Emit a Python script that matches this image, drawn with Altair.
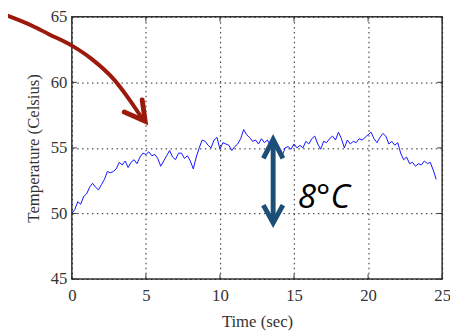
import altair as alt
import pandas as pd

# ---- data ----
time_s = [0.0, 0.2, 0.4, 0.6, 0.8, 1.0, 1.2, 1.4, 1.6, 1.8, 2.0, 2.2, 2.4, 2.6, 2.8,
          3.0, 3.2, 3.4, 3.6, 3.8, 4.0, 4.2, 4.4, 4.6, 4.8, 5.0, 5.2, 5.4, 5.6, 5.8,
          6.0, 6.2, 6.4, 6.6, 6.8, 7.0, 7.2, 7.4, 7.6, 7.8, 8.0, 8.2, 8.4, 8.6, 8.8,
          9.0, 9.2, 9.4, 9.6, 9.8, 10.0, 10.2, 10.4, 10.6, 10.8, 11.0, 11.2, 11.4, 11.6, 11.8,
          12.0, 12.2, 12.4, 12.6, 12.8, 13.0, 13.2, 13.4, 13.6, 13.8, 14.0, 14.2, 14.4, 14.6, 14.8,
          15.0, 15.2, 15.4, 15.6, 15.8, 16.0, 16.2, 16.4, 16.6, 16.8, 17.0, 17.2, 17.4, 17.6, 17.8,
          18.0, 18.2, 18.4, 18.6, 18.8, 19.0, 19.2, 19.4, 19.6, 19.8, 20.0, 20.2, 20.4, 20.6, 20.8,
          21.0, 21.2, 21.4, 21.6, 21.8, 22.0, 22.2, 22.4, 22.6, 22.8, 23.0, 23.2, 23.4, 23.6, 23.8,
          24.0, 24.2, 24.4, 24.6]
temp_c = [50.0, 50.3, 50.9, 50.7, 51.3, 51.5, 52.0, 52.3, 52.0, 51.8, 52.2, 52.6, 53.2, 53.1, 53.2,
          53.4, 53.9, 53.7, 54.0, 53.5, 53.9, 54.1, 53.8, 54.3, 54.6, 54.5, 54.7, 54.4, 54.5, 54.2,
          53.6, 54.0, 54.4, 54.8, 54.3, 54.1, 54.6, 54.6, 54.2, 54.4, 54.0, 53.4, 54.3, 55.0, 55.6,
          55.5, 55.2, 55.0, 55.6, 55.8, 54.9, 55.4, 55.3, 55.2, 54.8, 55.1, 55.3, 55.7, 56.4, 56.0,
          55.8, 55.5, 55.6, 55.3, 55.7, 55.4, 55.6, 55.2, 55.4, 55.0, 54.8, 54.4, 55.0, 55.1, 54.9,
          55.3, 55.0, 55.2, 55.0, 55.5, 55.3, 55.7, 55.9, 55.3, 54.9, 55.5, 55.4, 55.7, 55.9, 55.6,
          56.2, 55.7, 55.0, 55.6, 55.3, 55.5, 55.4, 55.7, 55.6, 55.8, 56.0, 56.2, 55.7, 55.4, 55.8,
          56.1, 55.9, 55.3, 55.5, 55.2, 55.4, 54.6, 54.1, 54.3, 53.8, 53.9, 53.6, 53.8, 53.7, 54.0,
          53.8, 53.9, 53.3, 52.6]

x_ticks = [0, 5, 10, 15, 20, 25]
y_ticks = [45, 50, 55, 60, 65]

# annotation paths (data coordinates)
red_curve_t = [-4.86, -2.65, -1.55, 0.0, 1.33, 2.88, 3.98, 4.87]
red_curve_T = [65.30, 64.30, 63.67, 62.80, 61.79, 60.17, 58.53, 57.03]
red_head_t = [3.54, 4.95, 4.75]
red_head_T = [57.73, 57.03, 58.66]

blue_shaft_t = [13.59, 13.59]
blue_shaft_T = [55.45, 49.50]
blue_top_t = [12.93, 13.59, 14.25]
blue_top_T = [54.20, 55.65, 54.20]
blue_bot_t = [12.93, 13.59, 14.25]
blue_bot_T = [50.64, 49.28, 50.64]

label_text = ["8°C"]
label_t = [15.25]
label_T = [50.42]

# ---- tables ----
line_df = pd.DataFrame({"t": time_s, "T": temp_c})


def segs(parts):
    rows = []
    for sid, (ts, vs) in enumerate(parts):
        for i, (a, b) in enumerate(zip(ts, vs)):
            rows.append({"t": a, "T": b, "seg": sid, "ord": i})
    return pd.DataFrame(rows)


curve_df = segs([(red_curve_t, red_curve_T)])
redhead_df = segs([(red_head_t, red_head_T)])
navy_df = segs([(blue_shaft_t, blue_shaft_T), (blue_top_t, blue_top_T), (blue_bot_t, blue_bot_T)])
label_df = pd.DataFrame({"t": label_t, "T": label_T, "txt": label_text})
xt_df = pd.DataFrame({"v": x_ticks})
yt_df = pd.DataFrame({"v": y_ticks})

W, H = 377, 267
xs = alt.Scale(domain=[0, 25], nice=False, zero=False)
ys = alt.Scale(domain=[45, 65], nice=False, zero=False)

axis_common = dict(
    grid=True, gridColor="#222", gridDash=[1.5, 3.5], gridWidth=1, gridOpacity=1,
    ticks=False, tickSize=0, domain=False,
    labelFont="Liberation Serif", labelFontSize=17, labelColor="#333",
    titleFont="Liberation Serif", titleFontSize=17, titleColor="#333", titleFontWeight="normal",
    labelFlush=False, labelOverlap=False,
)

base = alt.Chart(line_df).mark_line(color="#1010ff", strokeWidth=1).encode(
    x=alt.X("t:Q", scale=xs, axis=alt.Axis(values=x_ticks, title="Time (sec)",
                                           labelPadding=9, titlePadding=10, **axis_common)),
    y=alt.Y("T:Q", scale=ys, axis=alt.Axis(values=y_ticks, title="Temperature (Celsius)",
                                           labelPadding=5, titlePadding=8, **axis_common)),
)

tk = dict(color="#333", strokeWidth=1)
bottom_ticks = alt.Chart(xt_df).mark_rule(**tk).encode(x=alt.X("v:Q", scale=xs), y=alt.value(H), y2=alt.value(H - 5))
top_ticks = alt.Chart(xt_df).mark_rule(**tk).encode(x=alt.X("v:Q", scale=xs), y=alt.value(0), y2=alt.value(5))
left_ticks = alt.Chart(yt_df).mark_rule(**tk).encode(y=alt.Y("v:Q", scale=ys), x=alt.value(0), x2=alt.value(5))
right_ticks = alt.Chart(yt_df).mark_rule(**tk).encode(y=alt.Y("v:Q", scale=ys), x=alt.value(W), x2=alt.value(W - 5))

RED = "#9c1a0c"
curve = alt.Chart(curve_df).mark_line(color=RED, strokeWidth=4, strokeCap="butt", interpolate="monotone").encode(
    x=alt.X("t:Q", scale=xs), y=alt.Y("T:Q", scale=ys), order="ord:Q")
redhead = alt.Chart(redhead_df).mark_line(color=RED, strokeWidth=5, strokeCap="round", strokeJoin="miter").encode(
    x=alt.X("t:Q", scale=xs), y=alt.Y("T:Q", scale=ys), order="ord:Q")
navy = alt.Chart(navy_df).mark_line(color="#1c4e78", strokeWidth=5, strokeCap="butt", strokeJoin="miter").encode(
    x=alt.X("t:Q", scale=xs), y=alt.Y("T:Q", scale=ys), detail="seg:N", order="ord:Q")
label = alt.Chart(label_df).mark_text(font="Open Sans", fontStyle="italic", fontSize=34, align="left",
                                      baseline="alphabetic", color="black").encode(
    x=alt.X("t:Q", scale=xs), y=alt.Y("T:Q", scale=ys), text="txt:N")

chart = alt.layer(base, bottom_ticks, top_ticks, left_ticks, right_ticks, curve, redhead, navy, label).properties(
    width=W, height=H,
    autosize=alt.AutoSizeParams(type="none"),
    padding={"left": 65, "top": 6, "right": 8, "bottom": 50},
    background="white",
).configure_view(stroke="#333", strokeWidth=1.5)

chart.save("out.html", embed_options={"renderer": "svg", "actions": False})
